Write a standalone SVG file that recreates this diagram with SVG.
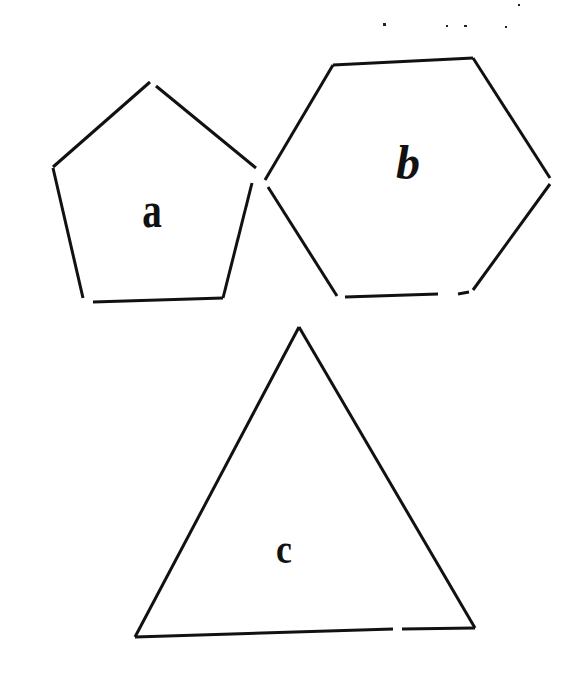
<svg xmlns="http://www.w3.org/2000/svg" width="588" height="700" viewBox="0 0 588 700">
<style>
.e{stroke:#111;stroke-width:3;fill:none;stroke-linecap:butt}
.t{font-family:"Liberation Serif",serif;font-weight:bold;fill:#111;text-anchor:middle}
.d{fill:#222}
</style>
<rect width="588" height="700" fill="#fff"/>
<g id="noise">
<rect class="d" x="383" y="23" width="3" height="3"/>
<rect class="d" x="446" y="25" width="2" height="2"/>
<rect class="d" x="464" y="25" width="3" height="2"/>
<rect class="d" x="505" y="26" width="2" height="2"/>
<rect class="d" x="518" y="4" width="2" height="2"/>
</g>
<g id="a">
<line class="e" x1="53" y1="167" x2="150" y2="82"/>
<line class="e" x1="156" y1="86" x2="256" y2="168"/>
<line class="e" x1="252" y1="183" x2="223" y2="298"/>
<line class="e" x1="93" y1="302" x2="223" y2="298"/>
<line class="e" x1="53" y1="168" x2="83" y2="298"/>
<text class="t" x="152" y="227" font-size="46" transform="translate(152 227) scale(0.85 1.1) translate(-152 -227)">a</text>
</g>
<g id="b">
<line class="e" x1="333" y1="65" x2="473" y2="58"/>
<line class="e" x1="473" y1="58" x2="550" y2="178"/>
<line class="e" x1="550" y1="184" x2="473" y2="290"/>
<line class="e" x1="458" y1="294" x2="469" y2="292"/>
<line class="e" x1="438" y1="294" x2="345" y2="297"/>
<line class="e" x1="337" y1="296" x2="268" y2="187"/>
<line class="e" x1="265" y1="180" x2="333" y2="65"/>
<text class="t" x="408" y="179" font-size="48" font-style="italic">b</text>
</g>
<g id="c">
<line class="e" x1="299" y1="327" x2="135" y2="637"/>
<line class="e" x1="299" y1="327" x2="475" y2="628"/>
<line class="e" x1="135" y1="637" x2="393" y2="629"/>
<line class="e" x1="402" y1="629" x2="475" y2="628"/>
<text class="t" x="284" y="563" font-size="42" transform="translate(284 563) scale(0.85 1) translate(-284 -563)">c</text>
</g>
</svg>
